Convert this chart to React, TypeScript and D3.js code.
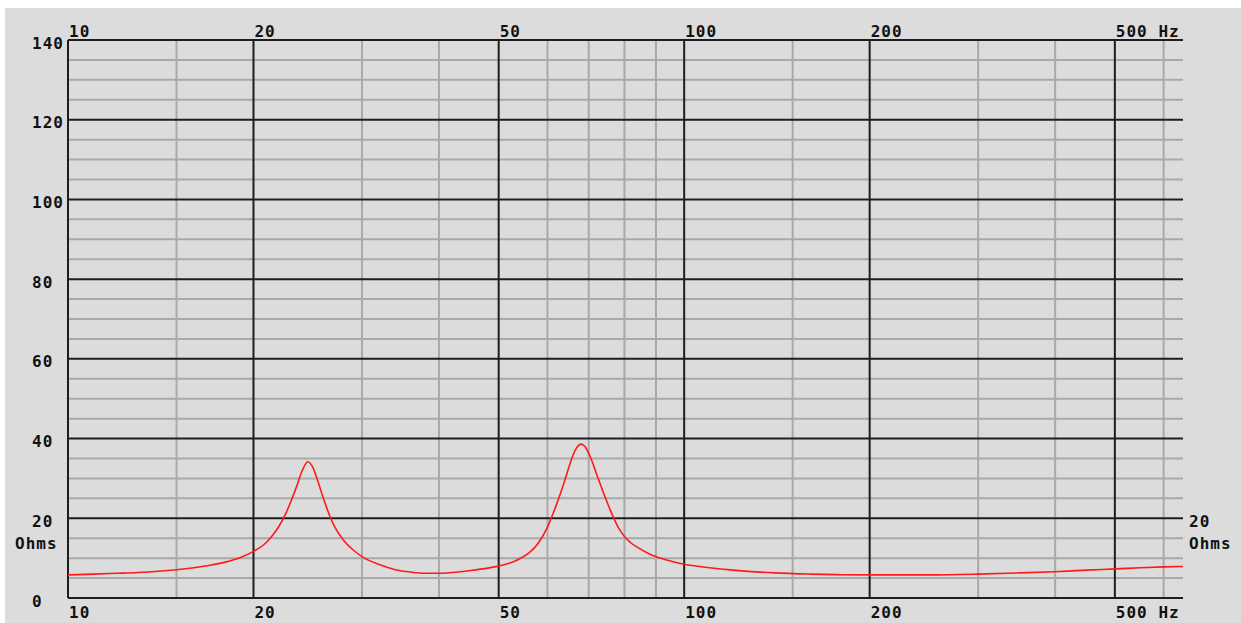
import React from "react";
import * as d3 from "d3";

const freqs = [10, 11, 12, 13, 14, 15, 16, 17, 18, 19, 20, 21, 21.5, 22, 22.5, 23, 23.5, 24, 24.5, 25, 25.5, 26, 26.5, 27, 28, 29, 30, 32, 34, 36, 38, 40, 42, 45, 48, 50, 52, 54, 56, 58, 60, 62, 63, 64, 65, 66, 67, 68, 69, 70, 71, 72, 73, 74, 75, 76, 77, 78, 79, 80, 82, 84, 88, 92, 96, 100, 110, 120, 140, 160, 180, 200, 250, 300, 350, 400, 450, 500, 550, 600, 645];
const ohms = [5.8, 6.0, 6.2, 6.4, 6.7, 7.1, 7.6, 8.2, 9.0, 10.1, 11.7, 14.0, 15.8, 18.0, 20.8, 24.2, 28.0, 32.0, 34.2, 32.6, 28.8, 24.8, 21.2, 18.3, 14.5, 12.1, 10.4, 8.4, 7.1, 6.5, 6.2, 6.2, 6.4, 6.9, 7.5, 8.0, 8.7, 9.8, 11.3, 13.8, 17.8, 23.3, 26.3, 29.5, 32.8, 35.8, 37.8, 38.6, 38.0, 36.3, 34.0, 31.3, 28.8, 26.3, 24.0, 21.8, 19.8, 18.0, 16.6, 15.4, 13.8, 12.7, 11.0, 9.9, 9.1, 8.45, 7.6, 7.0, 6.3, 6.0, 5.85, 5.8, 5.8, 6.0, 6.3, 6.6, 7.0, 7.3, 7.6, 7.8, 7.9];

const majorFreqs = [10, 20, 50, 100, 200, 500];
const minorFreqs = [15, 30, 40, 60, 70, 80, 90, 150, 300, 400, 600];
const freqLabels = ["10", "20", "50", "100", "200", "500 Hz"];
const majorOhms = [0, 20, 40, 60, 80, 100, 120, 140];
const minorOhms = d3.range(5, 140, 5).filter((v) => v % 20 !== 0);
const ohmLabels = ["0", "20", "40", "60", "80", "100", "120", "140"];

const W = 1241;
const H = 623;

export default function App() {
  const x = d3.scaleLog().domain([10, 645]).range([68, 1183]);
  const y = d3.scaleLinear().domain([0, 140]).range([598, 40]);
  const pts: [number, number][] = freqs.map((f, i) => [x(f), y(ohms[i])]);
  const line = d3.line().curve(d3.curveMonotoneX)(pts) || "";
  const [x0, x1] = x.range();
  const [y0, y1] = y.range();
  const font = {
    fontFamily: "'DejaVu Sans Mono', monospace",
    fontWeight: 700,
    fontSize: 16,
    letterSpacing: 1,
    fill: "#111",
  } as React.CSSProperties;
  return (
    <svg
      width={W}
      height={H}
      style={{ position: "absolute", left: 0, top: 0 }}
    >
      <rect x={0} y={0} width={W} height={H} fill="#fff" />
      <rect x={5} y={8} width={W - 5} height={H - 8} fill="#dcdcdc" />
      <g stroke="#a9a9a9" strokeWidth={2}>
        {minorFreqs.map((f) => (
          <line key={"vf" + f} x1={x(f)} x2={x(f)} y1={y1} y2={y0} />
        ))}
        {minorOhms.map((v) => (
          <line key={"ho" + v} x1={x0} x2={x1} y1={y(v)} y2={y(v)} />
        ))}
      </g>
      <g stroke="#1e1e1e" strokeWidth={2}>
        {majorFreqs.map((f) => (
          <line key={"Vf" + f} x1={x(f)} x2={x(f)} y1={y1} y2={y0} />
        ))}
        {majorOhms.map((v) => (
          <line key={"Ho" + v} x1={x0} x2={x1} y1={y(v)} y2={y(v)} />
        ))}
      </g>
      <path d={line} fill="none" stroke="#ff1a1a" strokeWidth={1.6} />
      {majorFreqs.map((f, i) => (
        <text key={"tl" + f} x={x(f) + 1} y={37} style={font}>
          {freqLabels[i]}
        </text>
      ))}
      {majorFreqs.map((f, i) => (
        <text key={"bl" + f} x={x(f) + 1} y={618} style={font}>
          {freqLabels[i]}
        </text>
      ))}
      {majorOhms.map((v, i) => (
        <text key={"yl" + v} x={32} y={y(v) + 8.5} style={font}>
          {ohmLabels[i]}
        </text>
      ))}
      <text x={15} y={549} style={font}>Ohms</text>
      <text x={1189} y={y(20) + 8.5} style={font}>20</text>
      <text x={1189} y={549} style={font}>Ohms</text>
    </svg>
  );
}
